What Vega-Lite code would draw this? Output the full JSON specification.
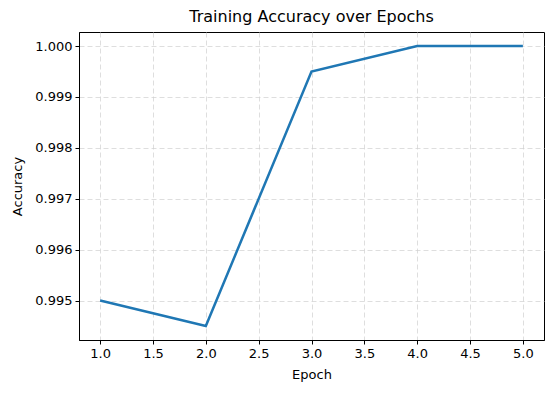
{
  "$schema": "https://vega.github.io/schema/vega-lite/v6.json",
  "width": 465,
  "height": 308,
  "autosize": {"type": "none"},
  "padding": {"left": 79, "top": 32, "right": 10, "bottom": 53},
  "background": "white",
  "config": {
    "font": "DejaVu Sans",
    "view": {"stroke": "black", "strokeWidth": 1},
    "axis": {
      "labelFont": "DejaVu Sans",
      "titleFont": "DejaVu Sans",
      "labelFontSize": 13,
      "titleFontSize": 13,
      "titleFontWeight": "normal",
      "labelColor": "black",
      "titleColor": "black",
      "tickColor": "black",
      "tickSize": 4,
      "domainColor": "black",
      "gridColor": "#d0d0d0",
      "gridOpacity": 0.7,
      "gridDash": [5, 3],
      "gridWidth": 1,
      "labelPadding": 3
    }
  },
  "title": {
    "text": "Training Accuracy over Epochs",
    "font": "DejaVu Sans",
    "fontSize": 16,
    "fontWeight": "normal",
    "color": "black",
    "offset": 7
  },
  "data": {
    "values": [
      {"epoch": 1, "accuracy": 0.995},
      {"epoch": 2, "accuracy": 0.9945},
      {"epoch": 3, "accuracy": 0.9995},
      {"epoch": 4, "accuracy": 1.0},
      {"epoch": 5, "accuracy": 1.0}
    ]
  },
  "mark": {"type": "line", "color": "#1f77b4", "strokeWidth": 2.5, "clip": false},
  "encoding": {
    "x": {
      "field": "epoch",
      "type": "quantitative",
      "title": "Epoch",
      "scale": {"domain": [0.8, 5.2], "nice": false, "zero": false},
      "axis": {"values": [1, 1.5, 2, 2.5, 3, 3.5, 4, 4.5, 5], "format": ".1f", "titlePadding": 8}
    },
    "y": {
      "field": "accuracy",
      "type": "quantitative",
      "title": "Accuracy",
      "scale": {"domain": [0.994225, 1.000275], "nice": false, "zero": false},
      "axis": {"values": [0.995, 0.996, 0.997, 0.998, 0.999, 1.0], "format": ".3f", "titlePadding": 10}
    }
  }
}
